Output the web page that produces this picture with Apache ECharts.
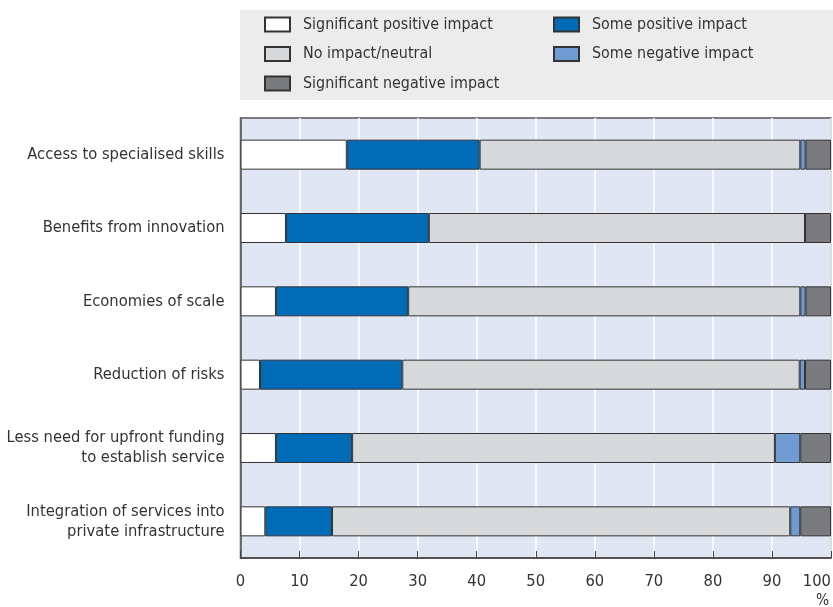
<!DOCTYPE html>
<html><head><meta charset="utf-8">
<script src="https://cdn.jsdelivr.net/npm/echarts@6/dist/echarts.min.js"></script>
<style>html,body{margin:0;padding:0;background:#fff}#c{width:833px;height:607px}</style>
</head><body><div id="c"></div>
<script>
const categories = ['Access to specialised skills','Benefits from innovation','Economies of scale','Reduction of risks','Less need for upfront funding\nto establish service','Integration of services into\nprivate infrastructure'];
const sigPositive = [18.0, 7.7, 6.0, 3.3, 6.0, 4.2];
const somePositive = [22.5, 24.2, 22.4, 24.1, 12.9, 11.3];
const noImpact = [54.3, 63.7, 66.4, 67.3, 71.6, 77.6];
const someNegative = [0.9, 0, 0.9, 0.9, 4.3, 1.7];
const sigNegative = [4.3, 4.4, 4.3, 4.4, 5.2, 5.2];
const xTicks = [0,10,20,30,40,50,60,70,80,90,100];

// pick a condensed font if one is installed
const cv = document.createElement('canvas').getContext('2d');
function has(f){
  const s='Significant positive impact 0123';
  cv.font='20px "'+f+'", monospace'; const a=cv.measureText(s).width;
  cv.font='20px monospace'; const b=cv.measureText(s).width;
  cv.font='20px "'+f+'", serif'; const c=cv.measureText(s).width;
  cv.font='20px serif'; const d=cv.measureText(s).width;
  return a!==b || c!==d;
}
let FAM = 'Liberation Sans';
for (const f of ['Liberation Sans Narrow','Arial Narrow','DejaVu Sans Condensed']) { if (has(f)) { FAM = f; break; } }
const FONT = '"'+FAM+'", "Liberation Sans", Arial, sans-serif';
function sizeFor(text, targetW){
  cv.font='20px '+FONT; const w=cv.measureText(text).width;
  return Math.round(20*targetW/w*10)/10;
}
const catSize = sizeFor('Access to specialised skills', 197);
const legSize = Math.round(catSize*0.97*10)/10;
const tickSize = catSize;

const names = ['Significant positive impact','Some positive impact','No impact/neutral','Some negative impact','Significant negative impact'];
const colors = ['#ffffff','#006bb6','#d7d8da','#6f9bd2','#7a7b7e'];
const datas = [sigPositive, somePositive, noImpact, someNegative, sigNegative];

const chart = echarts.init(document.getElementById('c'));
const legendCommon = {
  orient:'vertical', itemWidth:25, itemHeight:14, itemGap:13.5, selectedMode:false, padding:0, icon:'rect',
  textStyle:{fontFamily:FONT, fontSize:legSize, color:'#333', lineHeight:14, padding:[0,0,0,8]}
};
chart.setOption({
  animation:false,
  textStyle:{fontFamily:FONT},
  graphic:[
    {type:'rect', shape:{x:240, y:10, width:593, height:90}, style:{fill:'#ececec'}, z:-10},
    {type:'text', left:816, top:593, style:{text:'%', font:(tickSize-1)+'px '+FONT, fill:'#333'}}
  ],
  legend:[
    Object.assign({left:264, top:16.5, data:['Significant positive impact','No impact/neutral','Significant negative impact']}, legendCommon),
    Object.assign({left:553, top:16.5, data:['Some positive impact','Some negative impact']}, legendCommon)
  ],
  grid:{left:240.5, right:2, top:118, bottom:49, show:true, backgroundColor:'#e0e6f4', borderColor:'#555', borderWidth:1.5, outerBoundsMode:'none', containLabel:false},
  xAxis:{type:'value', min:0, max:100, interval:10,
    axisLine:{show:true, lineStyle:{color:'#444', width:1.5}},
    axisTick:{show:true, inside:true, length:7, lineStyle:{color:'#444'}},
    splitLine:{show:true, lineStyle:{color:'#ffffff', width:1.5}},
    axisLabel:{fontFamily:FONT, fontSize:tickSize, color:'#333', margin:16, hideOverlap:false, alignMaxLabel:'right',
      formatter: v => xTicks.includes(v) ? String(v) : ''}
  },
  yAxis:{type:'category', data:categories, inverse:true,
    axisLine:{show:true, lineStyle:{color:'#444', width:1.5}},
    axisTick:{show:false},
    axisLabel:{fontFamily:FONT, fontSize:catSize, color:'#333', margin:16, lineHeight:20, align:'right'}
  },
  series: names.map((n,i)=>({
    name:n, type:'bar', stack:'total', data:datas[i], barWidth:30,
    itemStyle:{color:colors[i], borderColor:'#333', borderWidth:1}
  }))
});
</script></body></html>
